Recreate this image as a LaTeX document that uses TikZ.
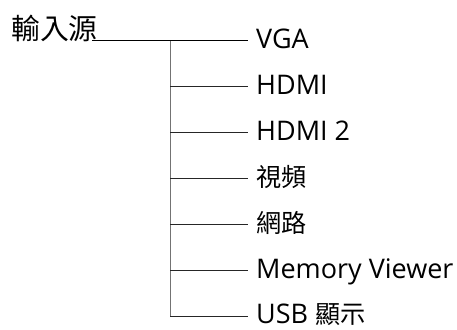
\documentclass[tikz,border=0pt]{standalone}
\usepackage{fontspec}
\setmainfont{Open Sans}
\newfontfamily\cjk[Scale=0.93]{Noto Sans CJK TC}
\begin{document}
\begin{tikzpicture}[x=1pt, y=-1pt,
  item/.style={anchor=west, inner xsep=8pt, inner ysep=0pt, text height=15pt, text depth=0pt,
    font=\fontsize{27}{31}\selectfont},
  twig/.style={line width=1pt, draw=black!85},
  trunk/.style={line width=1pt, draw=black!55}]
  \useasboundingbox (0,0) rectangle (457,329);
  % Root
  \node[anchor=south west, inner sep=0pt, font=\fontsize{31}{34}\selectfont] (src) at (11,42) {\cjk 輸入源};
  % Branches
  \foreach \t [count=\i from 0] in {VGA, HDMI, HDMI 2, {\cjk 視頻}, {\cjk 網路}, Memory Viewer, USB {\cjk 顯示}}{
    \coordinate (j\i) at (170, 41+45.9*\i);
    \node[item] (l\i) at (248, 41+45.9*\i) {\t};
  }
  \coordinate (r) at ([xshift=-6pt]src.east |- j0);
  \draw[twig, black] (r) -- (l0.west);
  \draw[trunk] (j0) -- (j6);
  \foreach \i in {1,...,6}{
    \draw[twig] (j\i) -- (l\i.west);
  }
\end{tikzpicture}
\end{document}
